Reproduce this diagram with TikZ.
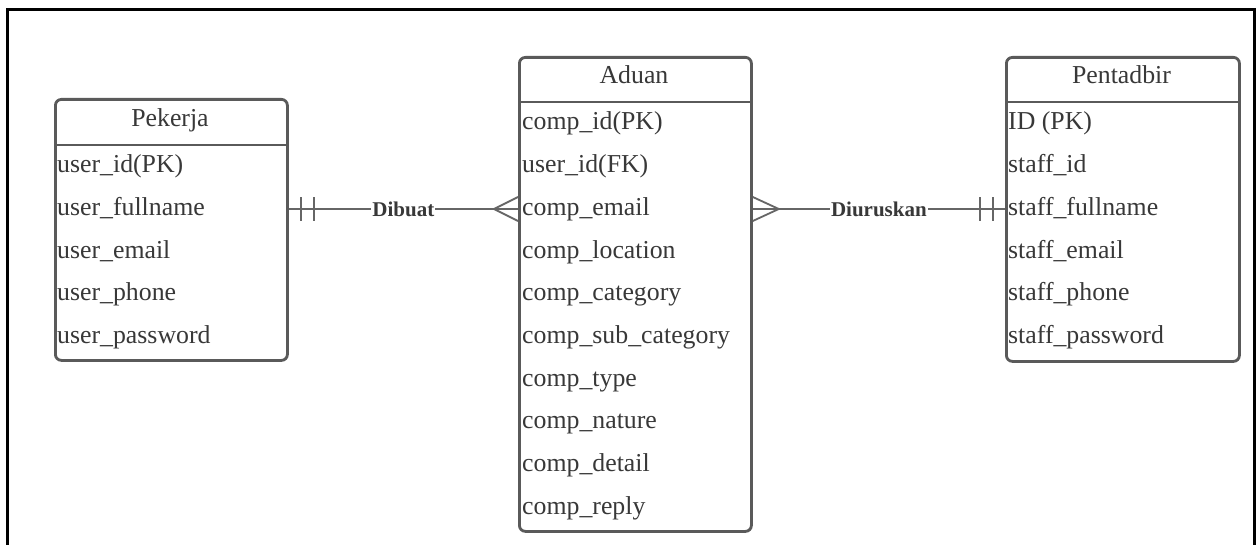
\documentclass[tikz,border=0pt]{standalone}
\usepackage{fontspec}
\setmainfont{Liberation Serif}
\definecolor{edge}{HTML}{5A5A5A}
\definecolor{ink}{HTML}{383838}
\definecolor{link}{HTML}{666666}
\begin{document}
\begin{tikzpicture}[x=1pt,y=-1pt,
  entity/.style={draw=edge, line width=2.8pt, rounded corners=6pt, rectangle, inner sep=0pt},
  headline/.style={draw=edge, line width=2.8pt},
  ttl/.style={anchor=base, inner sep=0pt, text=ink, font=\fontsize{25.8}{30}\selectfont},
  field/.style={anchor=base west, inner sep=0pt, text=ink, font=\fontsize{25.8}{30}\selectfont},
  rel/.style={draw=link, line width=1.8pt},
  rellabel/.style={fill=white, inner sep=1pt, text=ink, font=\fontsize{21}{25}\selectfont\bfseries}]
\useasboundingbox (0,0) rectangle (1258,545);
\fill[white] (0,0) rectangle (1258,545);
% outer frame
\draw[line width=3pt, black] (7.5,545) -- (7.5,10) -- (1254,10) -- (1254,545);

% Pekerja
\node[entity, anchor=north west, minimum width=232pt, minimum height=261pt] (pek) at (54,98) {};
\draw[headline] (pek.west |- 0,145) -- (pek.east |- 0,145);
\node[ttl] (pekt) at (170,127) {Pekerja};
\node[field] (pek1) at (57,173) {user\_id(PK)};
\node[field] (pek2) at (57,215.6) {user\_fullname};
\node[field] (pek3) at (57,258.2) {user\_email};
\node[field] (pek4) at (57,300.8) {user\_phone};
\node[field] (pek5) at (57,343.4) {user\_password};

% Aduan
\node[entity, anchor=north west, minimum width=232pt, minimum height=474pt] (adu) at (518,56) {};
\draw[headline] (adu.west |- 0,102) -- (adu.east |- 0,102);
\node[ttl] (adut) at (634,84) {Aduan};
\node[field] (adu1) at (522,130) {comp\_id(PK)};
\node[field] (adu2) at (522,172.7) {user\_id(FK)};
\node[field] (adu3) at (522,215.4) {comp\_email};
\node[field] (adu4) at (522,258.1) {comp\_location};
\node[field] (adu5) at (522,300.8) {comp\_category};
\node[field] (adu6) at (522,343.5) {comp\_sub\_category};
\node[field] (adu7) at (522,386.2) {comp\_type};
\node[field] (adu8) at (522,428.9) {comp\_nature};
\node[field] (adu9) at (522,471.6) {comp\_detail};
\node[field] (adu10) at (522,514.3) {comp\_reply};

% Pentadbir
\node[entity, anchor=north west, minimum width=233pt, minimum height=304pt] (pen) at (1005,56) {};
\draw[headline] (pen.west |- 0,102) -- (pen.east |- 0,102);
\node[ttl] (pent) at (1121.5,84) {Pentadbir};
\node[field] (pen1) at (1008,130) {ID (PK)};
\node[field] (pen2) at (1008,172.7) {staff\_id};
\node[field] (pen3) at (1008,215.4) {staff\_fullname};
\node[field] (pen4) at (1008,258.1) {staff\_email};
\node[field] (pen5) at (1008,300.8) {staff\_phone};
\node[field] (pen6) at (1008,343.5) {staff\_password};

% Dibuat: one Pekerja to many Aduan
\coordinate (d1) at (pek.east |- 0,209);
\coordinate (d2) at (adu.west |- 0,209);
\draw[rel] (d1) -- node[rellabel] (lbl1) {Dibuat} (d2);
\draw[rel] ([xshift=12pt,yshift=-12pt]d1) -- ([xshift=12pt,yshift=12pt]d1);
\draw[rel] ([xshift=25pt,yshift=-12pt]d1) -- ([xshift=25pt,yshift=12pt]d1);
\draw[rel] ([yshift=-12pt]d2) -- ([xshift=-24pt]d2) -- ([yshift=12pt]d2);

% Diuruskan: many Aduan to one Pentadbir
\coordinate (u1) at (adu.east |- 0,209);
\coordinate (u2) at (pen.west |- 0,209);
\draw[rel] (u1) -- node[rellabel] (lbl2) {Diuruskan} (u2);
\draw[rel] ([yshift=-12pt]u1) -- ([xshift=26pt]u1) -- ([yshift=12pt]u1);
\draw[rel] ([xshift=-12pt,yshift=-12pt]u2) -- ([xshift=-12pt,yshift=12pt]u2);
\draw[rel] ([xshift=-25pt,yshift=-12pt]u2) -- ([xshift=-25pt,yshift=12pt]u2);
\end{tikzpicture}
\end{document}
